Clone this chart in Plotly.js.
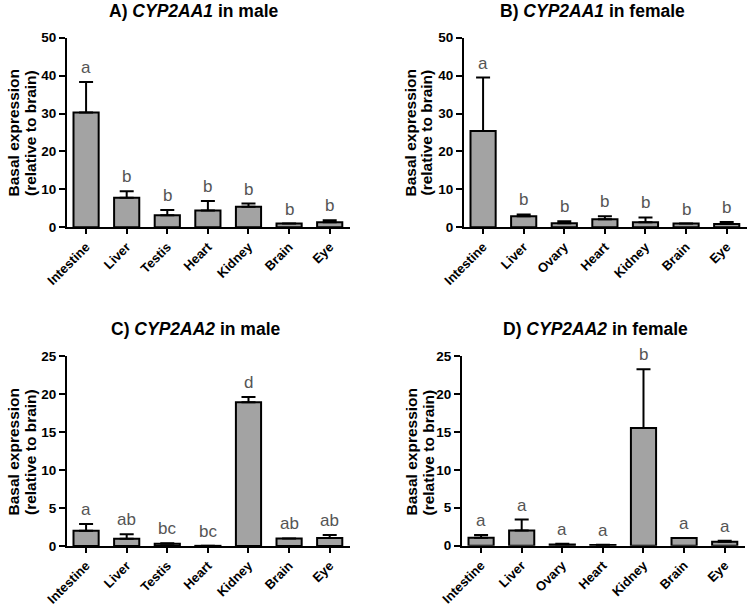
<!DOCTYPE html>
<html>
<head>
<meta charset="utf-8">
<script src="https://cdn.plot.ly/plotly-3.0.1.min.js"></script>
<style>html,body{margin:0;padding:0;background:#fff;}#chart{width:750px;height:608px;}</style>
</head>
<body>
<div id="chart"></div>
<script>
// ---- Data ----
const tissuesMale = ["Intestine", "Liver", "Testis", "Heart", "Kidney", "Brain", "Eye"];
const tissuesFemale = ["Intestine", "Liver", "Ovary", "Heart", "Kidney", "Brain", "Eye"];

const aMean = [30.3, 7.8, 3.2, 4.4, 5.4, 1.0, 1.3];
const aErr  = [8.0, 1.7, 1.35, 2.55, 0.85, 0.0, 0.55];
const aLetters = ["a", "b", "b", "b", "b", "b", "b"];

const bMean = [25.4, 2.9, 1.1, 2.1, 1.3, 1.0, 0.9];
const bErr  = [14.1, 0.5, 0.5, 0.8, 1.3, 0.0, 0.5];
const bLetters = ["a", "b", "b", "b", "b", "b", "b"];

const cMean = [2.0, 0.95, 0.3, 0.02, 18.9, 1.0, 1.05];
const cErr  = [0.9, 0.6, 0.05, 0.0, 0.7, 0.0, 0.4];
const cLetters = ["a", "ab", "bc", "bc", "d", "ab", "ab"];

const dMean = [1.05, 2.0, 0.15, 0.1, 15.5, 1.0, 0.53];
const dErr  = [0.35, 1.45, 0.1, 0.02, 7.75, 0.0, 0.12];
const dLetters = ["a", "a", "a", "a", "b", "a", "a"];

const panelTitles = [
  "A) <i>CYP2AA1</i> in male",
  "B) <i>CYP2AA1</i> in female",
  "C) <i>CYP2AA2</i> in male",
  "D) <i>CYP2AA2</i> in female"
];
const yTitleLines = ["Basal expression", "(relative to brain)"];

// ---- Build ----
const W = 750, H = 608;
const FONT = "Liberation Sans, Arial, sans-serif";
const px = v => v / W;
const py = v => 1 - v / H;

const panels = [
  {x: tissuesMale,   m: aMean, e: aErr, l: aLetters, xa: "x",  ya: "y",  xd: [67, 350],  yd: [37.7, 227.3], yr: [0, 50], dt: 10, tx: 193, ty: 10.5, yl: [12.5, 30], yc: 133},
  {x: tissuesFemale, m: bMean, e: bErr, l: bLetters, xa: "x2", ya: "y2", xd: [464, 747], yd: [37.7, 227.3], yr: [0, 50], dt: 10, tx: 592, ty: 10.5, yl: [409.5, 425.5], yc: 133},
  {x: tissuesMale,   m: cMean, e: cErr, l: cLetters, xa: "x3", ya: "y3", xd: [67, 350],  yd: [356, 546],    yr: [0, 25], dt: 5,  tx: 196, ty: 329, yl: [12.5, 30], yc: 452},
  {x: tissuesFemale, m: dMean, e: dErr, l: dLetters, xa: "x4", ya: "y4", xd: [462, 745], yd: [356, 545.7],  yr: [0, 25], dt: 5,  tx: 595, ty: 329, yl: [410.5, 427.5], yc: 452}
];

const traces = [];
const annotations = [];
const layout = {
  width: W, height: H,
  margin: {l: 0, r: 0, t: 0, b: 0},
  paper_bgcolor: "#fff", plot_bgcolor: "#fff",
  showlegend: false,
  font: {family: FONT, color: "#000"},
  bargap: 0.35
};

panels.forEach((p, i) => {
  traces.push({
    type: "bar",
    x: p.x, y: p.m,
    xaxis: p.xa, yaxis: p.ya,
    width: 0.62,
    marker: {color: "#a3a3a3", line: {color: "#000", width: 2}},
    error_y: {type: "data", symmetric: false, array: p.e, arrayminus: p.e.map(() => 0),
              color: "#000", thickness: 2, width: 7},
    hoverinfo: "none"
  });
  const sfx = i === 0 ? "" : String(i + 1);
  layout["xaxis" + sfx] = {
    domain: [px(p.xd[0]), px(p.xd[1])],
    anchor: p.ya,
    type: "category",
    range: [-0.47, 6.5],
    showline: true, linecolor: "#000", linewidth: 2,
    showgrid: false, zeroline: false,
    ticks: "outside", ticklen: 5, tickwidth: 2, tickcolor: "#000",
    tickangle: -45,
    tickfont: {family: FONT, size: 13, color: "#000", weight: "bold"},
    fixedrange: true
  };
  layout["yaxis" + sfx] = {
    domain: [py(p.yd[1]), py(p.yd[0])],
    anchor: p.xa,
    range: p.yr, dtick: p.dt, tick0: 0,
    showline: true, linecolor: "#000", linewidth: 2,
    showgrid: false, zeroline: false,
    ticks: "outside", ticklen: 6, tickwidth: 2, tickcolor: "#000",
    tickfont: {family: FONT, size: 13.5, color: "#000", weight: "bold"},
    fixedrange: true
  };
  // significance letters
  p.x.forEach((cat, k) => {
    annotations.push({
      xref: p.xa, yref: p.ya, x: cat, y: p.m[k] + p.e[k],
      text: p.l[k], showarrow: false, yanchor: "bottom", yshift: 3,
      font: {family: FONT, size: 17, color: "#555555"}
    });
  });
  // panel title
  annotations.push({
    xref: "paper", yref: "paper", x: px(p.tx), y: py(p.ty),
    xanchor: "center", yanchor: "middle", showarrow: false,
    text: panelTitles[i],
    font: {family: FONT, size: 17.5, color: "#000", weight: "bold"}
  });
  // y-axis title (two lines)
  yTitleLines.forEach((t, j) => {
    annotations.push({
      xref: "paper", yref: "paper", x: px(p.yl[j]), y: py(p.yc),
      xanchor: "center", yanchor: "middle", showarrow: false, textangle: -90,
      text: t,
      font: {family: FONT, size: 15.5, color: "#000", weight: "bold"}
    });
  });
});
layout.annotations = annotations;

Plotly.newPlot("chart", traces, layout, {staticPlot: true, displayModeBar: false});
</script>
</body>
</html>
